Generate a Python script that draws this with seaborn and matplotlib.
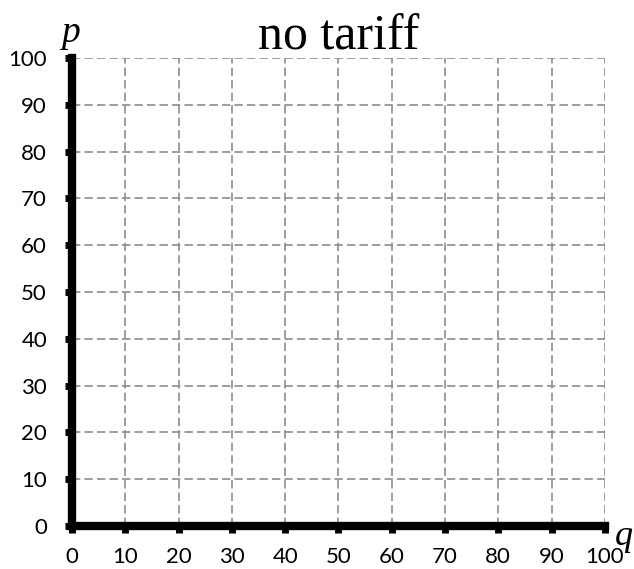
import matplotlib
matplotlib.use("Agg")
import matplotlib.pyplot as plt
import seaborn as sns

# Axis ranges and tick values
x_ticks = [0, 10, 20, 30, 40, 50, 60, 70, 80, 90, 100]
y_ticks = [0, 10, 20, 30, 40, 50, 60, 70, 80, 90, 100]
title = "no tariff"
x_name = "q"
y_name = "p"

sns.set_style("white")
plt.rcParams['font.family'] = ['Lato', 'DejaVu Sans']

fig = plt.figure(figsize=(6.34, 5.69), dpi=100)
ax = fig.add_axes([0.1136, 0.0756, 0.954 - 0.1136, 0.898 - 0.0756])

ax.set_xlim(x_ticks[0], x_ticks[-1])
ax.set_ylim(y_ticks[0], y_ticks[-1])
ax.set_xticks(x_ticks)
ax.set_yticks(y_ticks)
ax.tick_params(axis='both', direction='out', length=5, width=5, color='black',
               labelsize=16, labelcolor='black', bottom=True, left=True)
ax.tick_params(axis='y', pad=13)
ax.tick_params(axis='x', pad=10)

# dashed grid, incl. the lines at 100 which close the box
ax.grid(True, color='#8c8c8c', linestyle=(0, (5, 2.5)), linewidth=1.2)
ax.set_axisbelow(True)

sns.despine(ax=ax)
for side in ['left', 'bottom']:
    ax.spines[side].set_linewidth(6)
    ax.spines[side].set_color('black')
    ax.spines[side].set_zorder(3)

ax.set_title(title, family='Liberation Serif', fontsize=36, pad=6, color='black')
ax.text(-0.02, 1.035, y_name, transform=ax.transAxes, family='Liberation Serif',
        style='italic', fontsize=27, ha='left', va='baseline', color='black')
ax.text(1.018, -0.04, x_name, transform=ax.transAxes, family='Liberation Serif',
        style='italic', fontsize=26, ha='left', va='baseline', color='black')

fig.savefig("out.png", dpi=100)
